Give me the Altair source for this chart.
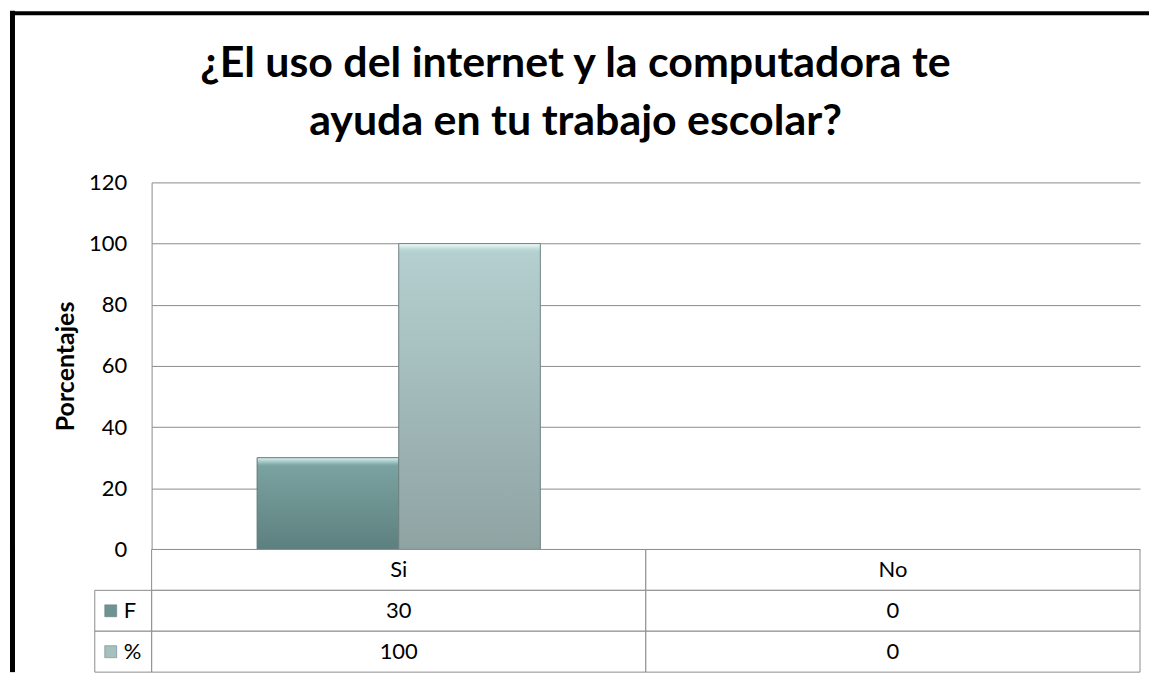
import altair as alt
import pandas as pd

title_lines = ["¿El uso del internet y la computadora te", "ayuda en tu trabajo escolar?"]
categories = ["Si", "No"]
series = ["F", "%"]
f_values = [30, 0]
pct_values = [100, 0]
y_ticks = [0, 20, 40, 60, 80, 100, 120]
y_title = "Porcentajes"
row_keys = ["cat", "F", "%"]

FONT = "Lato"
GRID = "#8c8c8c"
W, H = 991, 368
TH = 123

rows = []
for c, f, p in zip(categories, f_values, pct_values):
    rows.append({"cat": c, "series": "F", "value": f})
    rows.append({"cat": c, "series": "%", "value": p})
bars = pd.DataFrame(rows)

trows = []
for c, f, p in zip(categories, f_values, pct_values):
    trows.append({"cat": c, "row": "cat", "label": c})
    trows.append({"cat": c, "row": "F", "label": str(f)})
    trows.append({"cat": c, "row": "%", "label": str(p)})
table = pd.DataFrame(trows)
legdf = pd.DataFrame({"row": series})
one = pd.DataFrame({"a": [0]})

xscale = alt.Scale(domain=categories, paddingInner=0, paddingOuter=0)
xenc = alt.X("cat:N", scale=xscale, axis=None)
xoff = alt.XOffset("series:N", scale=alt.Scale(domain=series, paddingInner=0, paddingOuter=0.745))
yenc = alt.Y(
    "value:Q",
    scale=alt.Scale(domain=[0, 120], nice=False),
    axis=alt.Axis(values=y_ticks, title=y_title, grid=True, gridColor=GRID, gridOpacity=1,
                  domain=True, domainColor=GRID, ticks=False, labelPadding=25,
                  labelFont=FONT, labelFontSize=22, labelColor="black", labelFlush=False,
                  titleFont=FONT, titleFontSize=25, titleFontWeight="bold", titleColor="black",
                  titlePadding=10),
)

grad_f = alt.Gradient(gradient="linear", x1=0, x2=0, y1=0, y2=1, stops=[
    alt.GradientStop(color="#d9f5f3", offset=0),
    alt.GradientStop(color="#86aeac", offset=0.07),
    alt.GradientStop(color="#7aa2a0", offset=0.09),
    alt.GradientStop(color="#5d807f", offset=1),
])
grad_p = alt.Gradient(gradient="linear", x1=0, x2=0, y1=0, y2=1, stops=[
    alt.GradientStop(color="#eefcfc", offset=0),
    alt.GradientStop(color="#bcd6d6", offset=0.02),
    alt.GradientStop(color="#b4cfcf", offset=0.03),
    alt.GradientStop(color="#8fa3a3", offset=1),
])

bar_f = alt.Chart(bars).transform_filter("datum.series == 'F' && datum.value > 0").mark_bar(
    color=grad_f, stroke="#5f7474", strokeWidth=1).encode(x=xenc, xOffset=xoff, y=yenc)
bar_p = alt.Chart(bars).transform_filter("datum.series == '%' && datum.value > 0").mark_bar(
    color=grad_p, stroke="#6f8383", strokeWidth=1).encode(x=xenc, xOffset=xoff, y=yenc)

title = alt.Chart(one).mark_text(font=FONT, fontSize=43, fontWeight="bold", color="black",
                                 align="center", baseline="alphabetic", lineHeight=58).encode(
    text=alt.value(title_lines), x=alt.value(425), y=alt.value(-106))

border_v = alt.Chart(one).mark_rule(color="black", strokeWidth=5, strokeCap="square").encode(
    x=alt.value(-139.5), y=alt.value(-169.5), y2=alt.value(H))
border_h = alt.Chart(one).mark_rule(color="black", strokeWidth=4).encode(
    x=alt.value(-142), x2=alt.value(1000), y=alt.value(-169.5))

top = alt.layer(bar_f, bar_p, title, border_v, border_h).properties(width=W, height=H)

tx = alt.X("cat:N", scale=xscale, axis=None)
ty = alt.Y("row:N", scale=alt.Scale(domain=row_keys, paddingInner=0, paddingOuter=0), axis=None)
cells = alt.Chart(table).mark_rect(fill="white", stroke=GRID, strokeWidth=1).encode(x=tx, y=ty)
ctext = alt.Chart(table).mark_text(font=FONT, fontSize=22, color="black").encode(x=tx, y=ty, text="label:N")
lcells = alt.Chart(legdf).mark_rect(fill="white", stroke=GRID, strokeWidth=1).encode(
    x=alt.value(-57), x2=alt.value(0), y=ty)
swatch = alt.Chart(legdf).mark_square(size=144, opacity=1, stroke="#5f7474", strokeWidth=0.5).encode(
    x=alt.value(-41), y=ty,
    color=alt.Color("row:N", scale=alt.Scale(domain=series, range=["#6e9393", "#a6bfbf"]), legend=None))
ltext = alt.Chart(legdf).mark_text(font=FONT, fontSize=22, color="black", align="left").encode(
    x=alt.value(-28), y=ty, text="row:N")
border_b = alt.Chart(one).mark_rule(color="black", strokeWidth=5).encode(
    x=alt.value(-139.5), y=alt.value(-2), y2=alt.value(TH))

bottom = alt.layer(cells, ctext, lcells, swatch, ltext, border_b).properties(width=W, height=TH)

chart = alt.vconcat(top, bottom, spacing=0, bounds="flush").resolve_scale(
    x="independent", y="independent", color="independent", xOffset="independent"
).properties(
    padding={"left": 0, "top": 0, "right": 0, "bottom": 0}
).configure_view(stroke=None)

chart.save("out.html", embed_options={"renderer": "svg", "actions": False})
